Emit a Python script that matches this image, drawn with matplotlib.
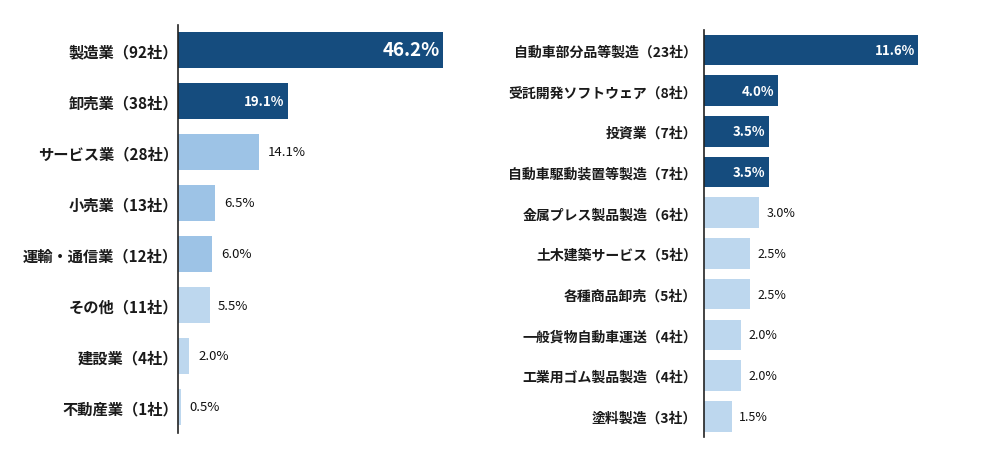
import matplotlib
matplotlib.use("Agg")
import matplotlib.pyplot as plt

plt.rcParams['font.family'] = ['Noto Sans CJK JP', 'DejaVu Sans']

left_labels = ["製造業（92社）", "卸売業（38社）", "サービス業（28社）", "小売業（13社）",
               "運輸・通信業（12社）", "その他（11社）", "建設業（4社）", "不動産業（1社）"]
left_values = [46.2, 19.1, 14.1, 6.5, 6.0, 5.5, 2.0, 0.5]
left_tier = [0, 0, 1, 1, 1, 2, 2, 2]

right_labels = ["自動車部分品等製造（23社）", "受託開発ソフトウェア（8社）", "投資業（7社）",
                "自動車駆動装置等製造（7社）", "金属プレス製品製造（6社）", "土木建築サービス（5社）",
                "各種商品卸売（5社）", "一般貨物自動車運送（4社）", "工業用ゴム製品製造（4社）",
                "塗料製造（3社）"]
right_values = [11.6, 4.0, 3.5, 3.5, 3.0, 2.5, 2.5, 2.0, 2.0, 1.5]
right_tier = [0, 0, 0, 0, 2, 2, 2, 2, 2, 2]

colors = ["#154C7E", "#9DC3E6", "#BDD7EE"]

W, H = 982, 464
fig = plt.figure(figsize=(W / 100, H / 100), dpi=100)

def px_axes(x0, top, w, h):
    return fig.add_axes([x0 / W, (H - top - h) / H, w / W, h / H])

def draw(ax, labels, values, tier, xmax, bh, lab_fs, in_fs, out_fs, big_fs, pad):
    n = len(values)
    ys = list(range(n))
    ax.barh(ys, values, height=bh, color=[colors[t] for t in tier], zorder=2)
    ax.set_xlim(0, xmax)
    ax.set_ylim(n - 0.5, -0.5)
    for s in ["top", "right", "bottom"]:
        ax.spines[s].set_visible(False)
    ax.spines["left"].set_color("#222222")
    ax.spines["left"].set_linewidth(1.2)
    ax.set_xticks([])
    ax.set_yticks(ys)
    ax.set_yticklabels(labels, fontsize=lab_fs, fontweight="bold", color="#1a1a1a")
    ax.tick_params(axis="y", length=0, pad=pad)
    for i, (v, t) in enumerate(zip(values, tier)):
        txt = f"{v:.1f}%"
        if t == 0:
            fs = big_fs if (big_fs and i == 0) else in_fs
            ax.text(v - xmax * 0.012, i, txt, ha="right", va="center", color="white",
                    fontsize=fs, fontweight="bold")
        else:
            ax.text(v + xmax * 0.03, i, txt, ha="left", va="center", color="#111111",
                    fontsize=out_fs)

axL = px_axes(178, 25.5, 287, 408)
draw(axL, left_labels, left_values, left_tier, 50, 0.72, 11, 9.5, 9.5, 13.5, 0)

axR = px_axes(704, 30.6, 258, 407)
draw(axR, right_labels, right_values, right_tier, 14, 0.75, 10, 9.5, 9, None, 5)

fig.savefig("out.png", dpi=100, facecolor="white")
